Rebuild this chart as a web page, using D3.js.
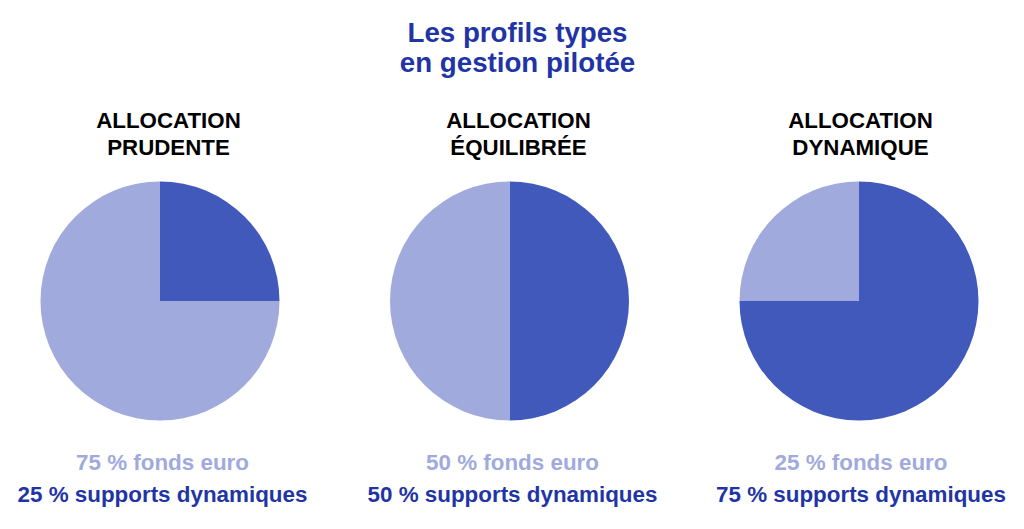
<!DOCTYPE html>
<html><head><meta charset="utf-8">
<script src="https://cdn.jsdelivr.net/npm/d3@7"></script>
<style>body{margin:0;background:#fff}svg{display:block}text{font-family:"Liberation Sans",Arial,sans-serif;font-weight:bold}</style>
</head><body>
<script>
const titleLines = ["Les profils types", "en gestion pilotée"];
const profileLine1 = ["ALLOCATION", "ALLOCATION", "ALLOCATION"];
const profileLine2 = ["PRUDENTE", "ÉQUILIBRÉE", "DYNAMIQUE"];
const supportsDynamiques = [25, 50, 75];
const fondsEuro = [75, 50, 25];
const seriesNames = ["supports dynamiques", "fonds euro"];

const W = 1024, H = 529;
const dark = "#4059BB", light = "#A1AADC", titleCol = "#1F35A5";
const svg = d3.select("body").append("svg").attr("width", W).attr("height", H);

const x = d3.scalePoint().domain(d3.range(3)).range([160, 859]);
const headX = [168.5, 518.5, 860.5];
const labelX = [162.5, 512.5, 861];
const R = 119.5, cy = 301;

svg.selectAll("text.title").data(titleLines).join("text")
  .attr("x", 517.5).attr("y", (d, i) => 42 + i * 30)
  .attr("text-anchor", "middle").attr("font-size", 27.7).attr("fill", titleCol).text(d => d);

const pie = d3.pie().sort(null).value(d => d.v);
const arc = d3.arc().innerRadius(0).outerRadius(R);

d3.range(3).forEach(i => {
  svg.append("text").attr("x", headX[i]).attr("y", 128).attr("text-anchor", "middle").attr("font-size", 22.3).attr("fill", "#000").text(profileLine1[i]);
  svg.append("text").attr("x", headX[i]).attr("y", 155).attr("text-anchor", "middle").attr("font-size", 22.3).attr("fill", "#000").text(profileLine2[i]);
  const data = [{k: seriesNames[0], v: supportsDynamiques[i], c: dark}, {k: seriesNames[1], v: fondsEuro[i], c: light}];
  svg.append("g").attr("transform", `translate(${x(i)},${cy})`)
    .selectAll("path").data(pie(data)).join("path").attr("d", arc).attr("fill", d => d.data.c);
  svg.append("text").attr("x", labelX[i]).attr("y", 470).attr("text-anchor", "middle").attr("font-size", 22.4).attr("fill", light)
    .text(`${fondsEuro[i]} % ${seriesNames[1]}`);
  svg.append("text").attr("x", labelX[i]).attr("y", 502).attr("text-anchor", "middle").attr("font-size", 22.4).attr("fill", titleCol)
    .text(`${supportsDynamiques[i]} % ${seriesNames[0]}`);
});
</script>
</body></html>
